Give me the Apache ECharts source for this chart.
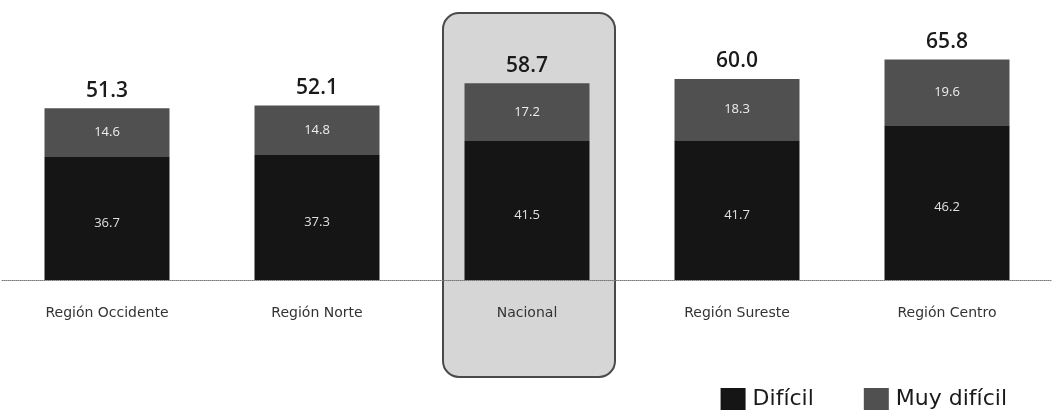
<!DOCTYPE html>
<html><head><meta charset="utf-8">
<script src="https://cdn.jsdelivr.net/npm/echarts@6/dist/echarts.min.js"></script>
<style>html,body{margin:0;padding:0;background:#fff}#c{width:1052px;height:417px}</style>
</head><body><div id="c"></div>
<script>
const categories = ["Región Occidente", "Región Norte", "Nacional", "Región Sureste", "Región Centro"];
const dificil = [36.7, 37.3, 41.5, 41.7, 46.2];
const muyDificil = [14.6, 14.8, 17.2, 18.3, 19.6];
const totals = [51.3, 52.1, 58.7, 60.0, 65.8];
const highlight = "Nacional";

const LABEL_FONT = "'DejaVu Sans', sans-serif";
const NUM_FONT = "'Open Sans', sans-serif";
const chart = echarts.init(document.getElementById('c'), null, {renderer: 'canvas'});
const option = {
  animation: false,
  backgroundColor: '#fff',
  grid: {left: 2, right: 0, top: 12, height: 268, containLabel: false},
  legend: {
    data: ['Difícil', 'Muy difícil'],
    right: 40, bottom: 2,
    itemWidth: 25, itemHeight: 22, itemGap: 50,
    icon: 'rect',
    textStyle: {fontFamily: LABEL_FONT, fontSize: 22, color: '#1a1a1a', padding: [0, 0, 0, 2]}
  },
  xAxis: {
    type: 'category', data: categories,
    axisLine: {lineStyle: {color: '#777', type: 'dotted', width: 1}},
    axisTick: {show: false},
    axisLabel: {fontFamily: LABEL_FONT, fontSize: 14, color: '#333', margin: 26}
  },
  yAxis: {type: 'value', min: 0, max: 80, show: false, splitLine: {show: false}},
  series: [
    {name: 'Difícil', type: 'bar', stack: 't', data: dificil, barWidth: 125, z: 3,
     itemStyle: {color: '#151515'},
     label: {show: true, position: 'inside', offset: [0, 5], color: '#e0e0e0', fontFamily: NUM_FONT, fontSize: 13,
             formatter: p => p.value.toFixed(1)}},
    {name: 'Muy difícil', type: 'bar', stack: 't', data: muyDificil, barWidth: 125, z: 3,
     itemStyle: {color: '#505050'},
     label: {show: true, position: 'inside', color: '#eeeeee', fontFamily: NUM_FONT, fontSize: 13,
             formatter: p => p.value.toFixed(1)}},
    {name: 'total', type: 'bar', stack: 't', data: totals.map(() => 0), barWidth: 125, z: 3,
     itemStyle: {color: 'transparent'},
     label: {show: true, position: 'top', distance: 7, color: '#1a1a1a', fontFamily: NUM_FONT, fontSize: 21, fontWeight: 600,
             formatter: p => totals[p.dataIndex].toFixed(1)}}
  ]
};
chart.setOption(option);
const idx = categories.indexOf(highlight);
const cx = chart.convertToPixel({xAxisIndex: 0}, categories[idx]);
chart.setOption({
  graphic: [{
    type: 'rect', z: -10, silent: true,
    shape: {x: cx - 84, y: 13, width: 172, height: 364, r: 16},
    style: {fill: '#d6d6d6', stroke: '#4a4a4a', lineWidth: 2}
  }]
});
</script></body></html>
